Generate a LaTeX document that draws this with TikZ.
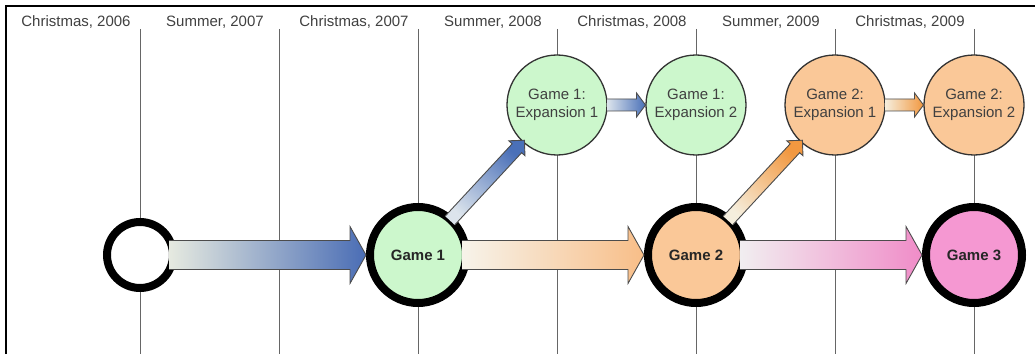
\documentclass[tikz,border=0pt]{standalone}
\usepackage{fontspec}
\setmainfont{Liberation Sans}
\usetikzlibrary{calc}
\definecolor{gfill}{HTML}{CCF7CC}
\definecolor{ofill}{HTML}{FAC898}
\definecolor{pfill}{HTML}{F598D2}
\definecolor{txt}{HTML}{404040}
\definecolor{bA}{HTML}{E6EAE0}
\definecolor{bB}{HTML}{4A6DB5}
\definecolor{oA}{HTML}{F7F3EA}
\definecolor{oB}{HTML}{F8BE88}
\definecolor{pA}{HTML}{F1EEF0}
\definecolor{pB}{HTML}{F08CC8}
\definecolor{dbA}{HTML}{DCE4EC}
\definecolor{dbB}{HTML}{4A70B8}
\definecolor{doA}{HTML}{F5EEDD}
\definecolor{doB}{HTML}{F29840}
\newcommand{\garrow}[6]{%
  \coordinate (gaH) at ($(#2)!#5!(#1)$);
  \shade[#6] ($(#1)!#3!-90:(#2)$) -- ($(gaH)!#3!-90:(#2)$) -- ($(gaH)!#4!-90:(#2)$) -- (#2)
     -- ($(gaH)!#4!90:(#2)$) -- ($(gaH)!#3!90:(#2)$) -- ($(#1)!#3!90:(#2)$) -- cycle;
  \draw[arrline] ($(#1)!#3!-90:(#2)$) -- ($(gaH)!#3!-90:(#2)$) -- ($(gaH)!#4!-90:(#2)$) -- (#2)
     -- ($(gaH)!#4!90:(#2)$) -- ($(gaH)!#3!90:(#2)$) -- ($(#1)!#3!90:(#2)$);
}
\begin{document}
\begin{tikzpicture}[x=1pt,y=1pt,
  tick/.style={draw=black!60, line width=1pt},
  lbl/.style={font=\fontsize{15}{17}\selectfont, text=txt, inner sep=0pt},
  major/.style={circle, draw=black, line width=8pt, minimum size=96pt, inner sep=0pt,
                font=\fontsize{15}{17}\selectfont\bfseries, text=black!85},
  minor/.style={circle, draw=black!80, line width=1.3pt, minimum size=100pt, inner sep=0pt,
                align=center, font=\fontsize{15}{18}\selectfont, text=txt},
  arrline/.style={draw=black!70, line width=0.9pt, line join=miter}]
\useasboundingbox (0,0) rectangle (1035,354);
% frame
\draw[line width=2pt] (6,0) -- (6,348) -- (1035,348);
% time lines and labels
\foreach \x/\t [count=\i] in {140/{Christmas, 2006},279/{Summer, 2007},418/{Christmas, 2007},
    557/{Summer, 2008},696/{Christmas, 2008},835/{Summer, 2009},974/{Christmas, 2009}}{
  \draw[tick] (\x,325) -- (\x,0);
  \node[lbl] (l\i) at (\x-64,332) {\t};
}
% circles
\node[major, minimum size=66pt, fill=white] (s) at (140,99) {};
\node[major, fill=gfill] (g1) at (418,99) {Game 1};
\node[major, fill=ofill] (g2) at (696,99) {Game 2};
\node[major, fill=pfill] (g3) at (974,99) {Game 3};
\node[minor, fill=gfill] (e1) at (557,249) {Game 1:\\Expansion 1};
\node[minor, fill=gfill] (e2) at (696,249) {Game 1:\\Expansion 2};
\node[minor, fill=ofill] (f1) at (835,249) {Game 2:\\Expansion 1};
\node[minor, fill=ofill] (f2) at (974,249) {Game 2:\\Expansion 2};
% arrow end points
\coordinate (a1s) at ($(s.center)!29pt!(g1.center)$);
\coordinate (a1t) at (g1.west);
\coordinate (a2s) at ($(g1.center)!44pt!(g2.center)$);
\coordinate (a2t) at (g2.west);
\coordinate (a3s) at ($(g2.center)!44pt!(g3.center)$);
\coordinate (a3t) at (g3.west);
\coordinate (d1s) at ($(g1.center)!47pt!(e1.center)$);
\coordinate (d1t) at ($(e1.center)!48pt!(g1.center)$);
\coordinate (d2s) at ($(g2.center)!47pt!(f1.center)$);
\coordinate (d2t) at ($(f1.center)!48pt!(g2.center)$);
\coordinate (h1s) at ($(e1.center)!50pt!(e2.center)$);
\coordinate (h1t) at ($(e2.center)!50.5pt!(e1.center)$);
\coordinate (h2s) at ($(f1.center)!50pt!(f2.center)$);
\coordinate (h2t) at ($(f2.center)!50.5pt!(f1.center)$);
% arrows
\garrow{a1s}{a1t}{14.5pt}{28.5pt}{16pt}{left color=bA, right color=bB}
\garrow{a2s}{a2t}{14.5pt}{28.5pt}{16pt}{left color=oA, right color=oB}
\garrow{a3s}{a3t}{14.5pt}{28.5pt}{16pt}{left color=pA, right color=pB}
\garrow{d1s}{d1t}{6.5pt}{11pt}{11pt}{top color=dbB, bottom color=dbA, shading angle=-42.8}
\garrow{d2s}{d2t}{6.5pt}{11pt}{11pt}{top color=doB, bottom color=doA, shading angle=-42.8}
\garrow{h1s}{h1t}{6pt}{12pt}{9pt}{left color=dbA, right color=dbB}
\garrow{h2s}{h2t}{6pt}{12pt}{9pt}{left color=doA, right color=doB}
\end{tikzpicture}
\end{document}
